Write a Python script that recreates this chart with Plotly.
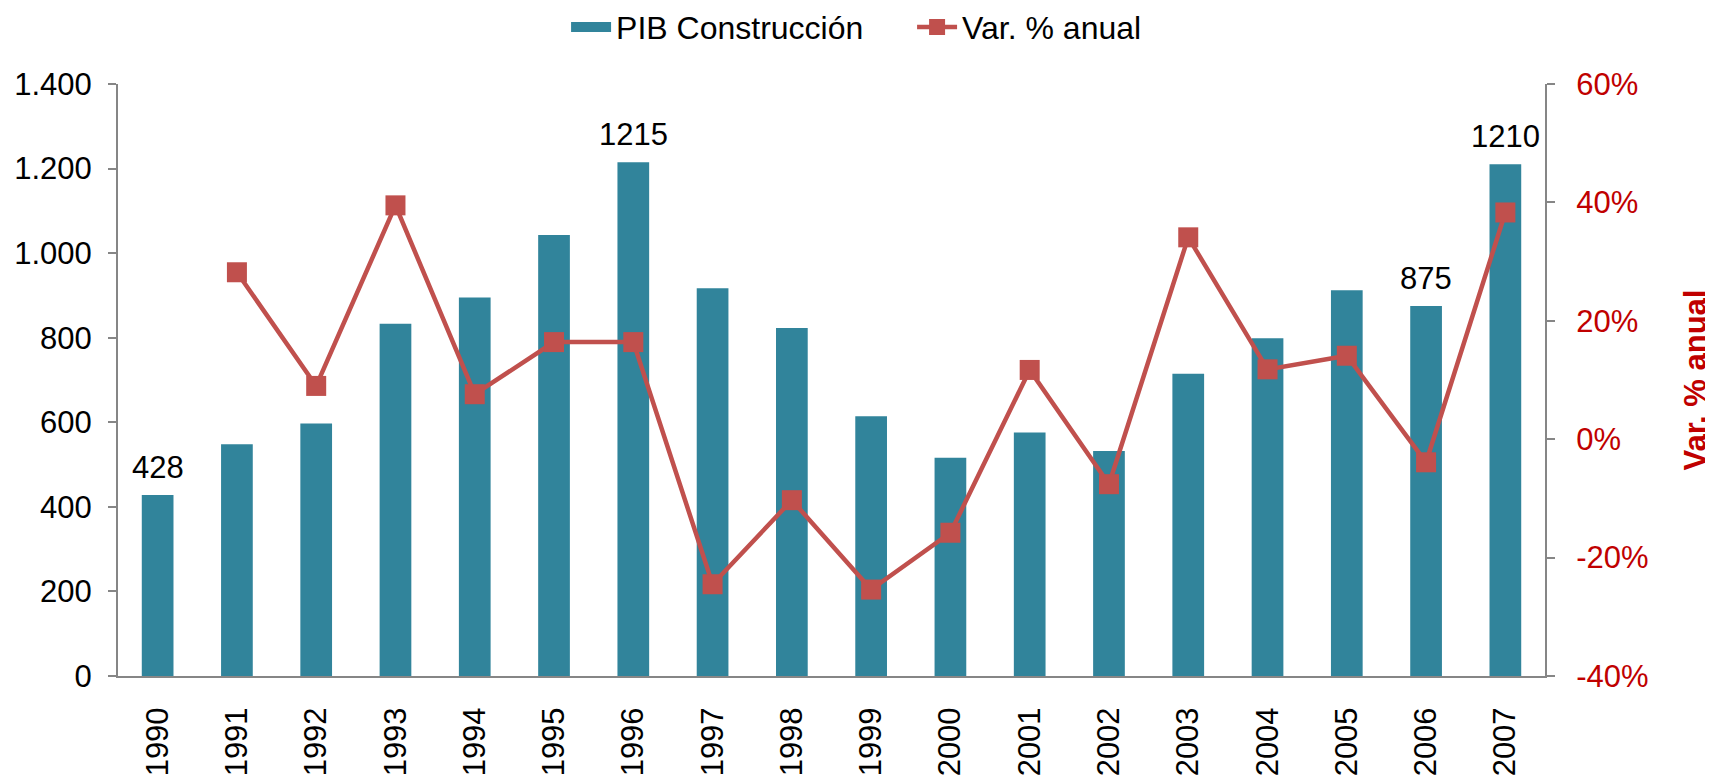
import plotly.graph_objects as go

years = ["1990", "1991", "1992", "1993", "1994", "1995", "1996", "1997", "1998",
         "1999", "2000", "2001", "2002", "2003", "2004", "2005", "2006", "2007"]
pib = [428, 548, 597, 833, 895, 1043, 1215, 917, 823,
       614, 516, 576, 532, 715, 799, 912, 875, 1210]
var_pct = [None, 28.2, 9.0, 39.5, 7.6, 16.4, 16.4, -24.5, -10.3,
           -25.4, -15.8, 11.7, -7.6, 34.1, 11.8, 14.1, -3.9, 38.3]
labeled_years = ["1990", "1996", "2006", "2007"]
pct_ticks = [-40, -20, 0, 20, 40, 60]

BAR = "#31849B"
LINE = "#C0504D"
RED = "#C00000"
AXIS = "#868686"
FONT = "Liberation Sans, Arial, sans-serif"

fig = go.Figure()
fig.add_trace(go.Bar(
    x=years, y=pib, name="PIB Construcción",
    marker=dict(color=BAR, line=dict(width=0)),
    yaxis="y", showlegend=False,
))
# legend-only entry drawn as a wide rectangle like the reference
fig.add_trace(go.Scatter(
    x=[None], y=[None], name="PIB Construcción", mode="lines",
    line=dict(color=BAR, width=16), yaxis="y", hoverinfo="skip",
))
fig.add_trace(go.Scatter(
    x=years, y=var_pct, name="Var. % anual", mode="lines+markers",
    line=dict(color=LINE, width=4.5),
    marker=dict(symbol="square", size=20, color=LINE),
    yaxis="y2",
))

for i, (yr, v) in enumerate(zip(years, pib)):
    if yr in labeled_years:
        fig.add_annotation(x=i, xref="x", y=v, yref="y", text=str(v), showarrow=False,
                           yanchor="bottom", yshift=8,
                           font=dict(family=FONT, size=31, color="#000000"))

fig.update_layout(
    width=1705, height=767,
    margin=dict(l=110, r=168, t=76, b=99, autoexpand=False),
    paper_bgcolor="white", plot_bgcolor="white",
    separators=",.",
    bargap=0.6,
    font=dict(family=FONT, size=31, color="#000000"),
    showlegend=True,
    legend=dict(orientation="h", x=0.314, xanchor="left", y=1.096, yanchor="middle",
                font=dict(family=FONT, size=32, color="#000000"),
                itemwidth=40, entrywidth=291, entrywidthmode="pixels",
                traceorder="normal", bgcolor="rgba(0,0,0,0)"),
    xaxis=dict(
        type="category", tickangle=-90, showgrid=False,
        range=[-0.5, len(years) - 0.5],
        showline=True, linecolor=AXIS, linewidth=2,
        ticks="", ticklabelstandoff=17,
        tickfont=dict(family=FONT, size=31, color="#000000"),
    ),
    yaxis=dict(
        range=[0, 1400], dtick=200, tickformat=",d", showgrid=False, zeroline=False,
        showline=True, linecolor=AXIS, linewidth=2,
        ticks="outside", ticklen=8, tickcolor=AXIS, tickwidth=1.5,
        ticklabelstandoff=10,
        tickfont=dict(family=FONT, size=31, color="#000000"),
    ),
    yaxis2=dict(
        range=[-40, 60], tickvals=pct_ticks, ticktext=[f"{t}%" for t in pct_ticks],
        overlaying="y", side="right",
        showgrid=False, zeroline=False,
        showline=True, linecolor=AXIS, linewidth=2,
        ticks="outside", ticklen=8, tickcolor=AXIS, tickwidth=1.5,
        ticklabelstandoff=15,
        tickfont=dict(family=FONT, size=31, color=RED),
        title=dict(text="<b>Var. % anual</b>", standoff=44,
                   font=dict(family=FONT, size=31, color=RED)),
    ),
)

fig.write_html("out.html")
